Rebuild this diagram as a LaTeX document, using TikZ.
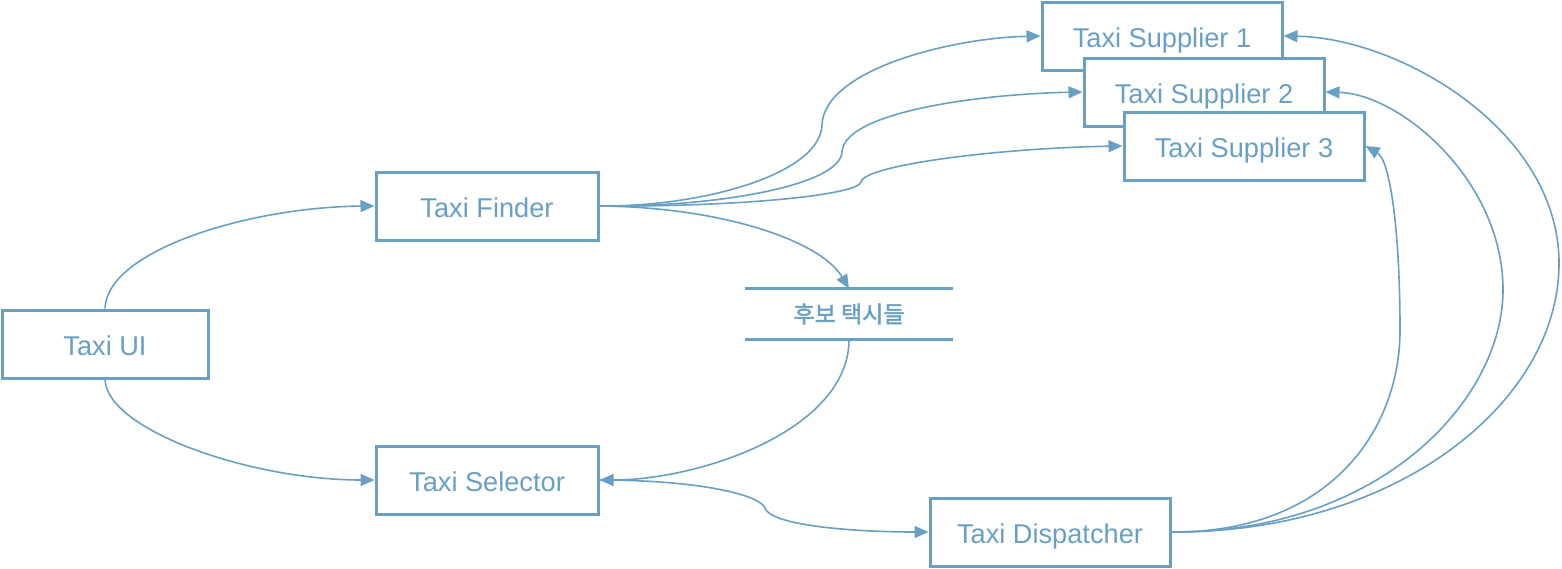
\documentclass[tikz,border=0pt]{standalone}
\usepackage{fontspec}
\setmainfont{Liberation Sans}
\newfontfamily\kofont{Noto Sans CJK KR}[AutoFakeBold=2]
\usepackage{xcolor}
\usetikzlibrary{arrows.meta,positioning}
\definecolor{dfblue}{HTML}{6A9FC4}

\begin{document}
\begin{tikzpicture}[
  x=0.5pt, y=-0.5pt,
  proc/.style={draw=dfblue, line width=1.5pt, fill=white, text=dfblue, font=\fontsize{13.6}{15}\selectfont,
               minimum height=34pt, inner sep=0pt, text height=11.3pt, text depth=0pt},
  store/.style={text=dfblue, font=\kofont\bfseries\fontsize{11.5}{14}\selectfont,
                minimum width=104pt, minimum height=25pt, inner sep=0pt},
  arr/.style={-{Triangle[length=7pt,width=6pt]}, line width=0.8pt, dfblue}]
  \useasboundingbox (0,0) rectangle (1562,568);
  % processes
  \node[proc, minimum width=103pt] (ui) at (105,344) {Taxi UI};
  \node[proc, minimum width=111pt] (finder) at (487,206) {Taxi Finder};
  \node[proc, minimum width=111pt] (selector) at (487,480) {Taxi Selector};
  \node[proc, minimum width=120pt] (dispatcher) at (1050,532) {Taxi Dispatcher};
  \node[proc, minimum width=120pt] (sup1) at (1162,36) {Taxi Supplier 1};
  \node[proc, minimum width=120pt] (sup2) at (1204,92) {Taxi Supplier 2};
  \node[proc, minimum width=120pt] (sup3) at (1244,146) {Taxi Supplier 3};
  % data store
  \node[store] (cand) at (849,314) {후보 택시들};
  \draw[dfblue, line width=1.2pt] (cand.north west) -- (cand.north east);
  \draw[dfblue, line width=1.2pt] (cand.south west) -- (cand.south east);
  % flows
  \draw[arr] (ui.north) .. controls (107,250) and (250,207) .. (finder.west);
  \draw[arr] (ui.south) .. controls (107,430) and (250,480) .. (selector.west);
  \draw[arr] (finder.east) .. controls (700,207) and (820,175) .. (822,125)
                           .. controls (824,70) and (950,38) .. (sup1.west);
  \draw[arr] (finder.east) .. controls (720,207) and (840,185) .. (842,152)
                           .. controls (844,112) and (980,94) .. (sup2.west);
  \draw[arr] (finder.east) .. controls (740,207) and (858,195) .. (861,182)
                           .. controls (864,165) and (1000,148) .. (sup3.west);
  \draw[arr] (finder.east) .. controls (720,207) and (820,240) .. (cand.north);
  \draw[arr] (cand.south) .. controls (849,430) and (700,480) .. (selector.east);
  \draw[arr] (selector.east) .. controls (700,480) and (760,495) .. (765,508)
                             .. controls (770,525) and (850,532) .. (dispatcher.west);
  \draw[arr] (dispatcher.east) .. controls (1400,533) and (1560,400) .. (1559,262)
                               .. controls (1558,130) and (1400,38) .. (sup1.east);
  \draw[arr] (dispatcher.east) .. controls (1380,533) and (1503,400) .. (1503,290)
                               .. controls (1503,180) and (1400,94) .. (sup2.east);
  \draw[arr] (dispatcher.east) .. controls (1330,533) and (1400,430) .. (1400,330)
                               .. controls (1400,230) and (1390,160) .. (sup3.east);
\end{tikzpicture}
\end{document}
